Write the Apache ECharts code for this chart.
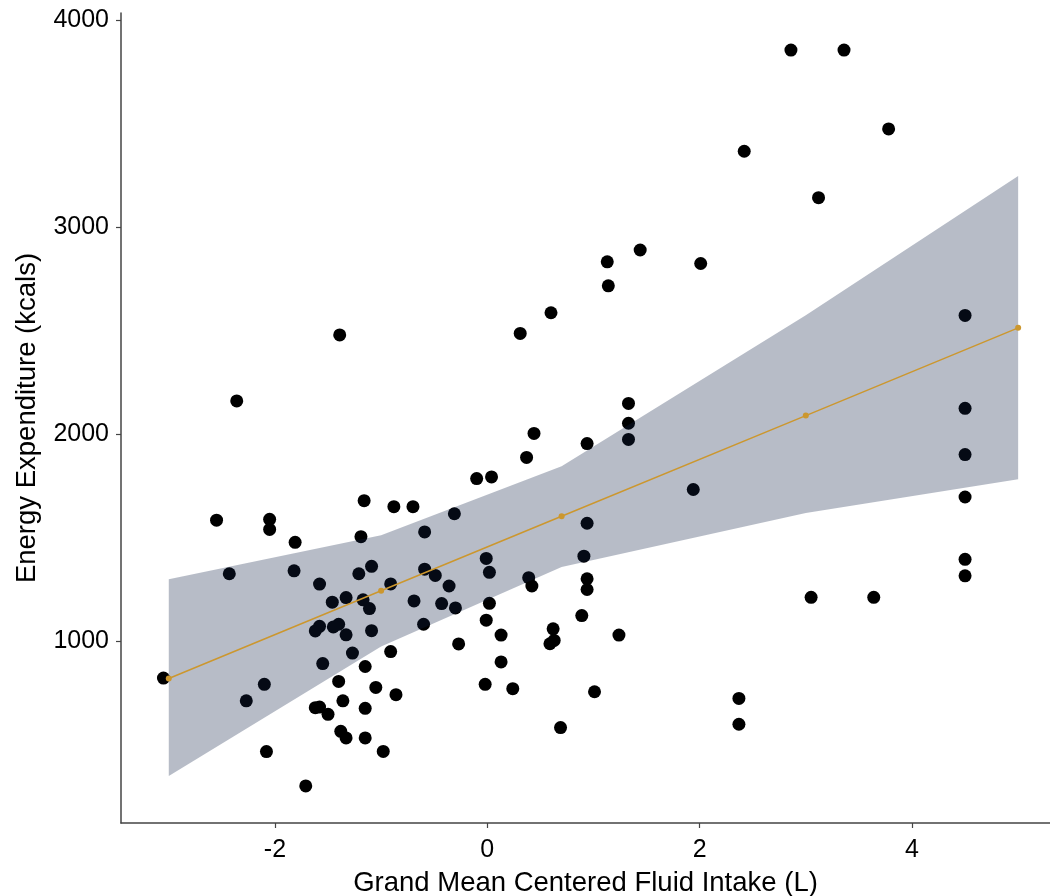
<!DOCTYPE html>
<html>
<head>
<meta charset="utf-8">
<script src="https://cdn.jsdelivr.net/npm/echarts@6/dist/echarts.min.js"></script>
<style>
  html, body { margin: 0; padding: 0; background: #fff; }
  #chart { width: 1050px; height: 896px; }
</style>
</head>
<body>
<div id="chart"></div>
<script>
// observed points: grand mean centered fluid intake (L) vs energy expenditure (kcals)
const fluidIntake = [
  2.86, 3.36, 3.78, 2.42, 3.12, 1.44, 1.13, 2.01, 1.14, 0.60,
  0.31, -1.39, 4.50, -2.36, 1.33, 1.33, 1.33, 4.50, 0.44, 0.94,
  4.50, 0.37, -0.10, 0.04, 1.94, 4.50, -1.16, -0.88, -0.70, -0.31,
  -2.55, -2.05, -2.05, 0.94, -1.19, -0.59, -1.81, 0.91, -0.01, 4.50,
  -2.43, -1.82, -1.21, -1.09, -0.59, -0.49, 0.02, 0.39, 0.94, 4.50,
  -1.58, -0.91, -0.36, 0.42, 0.94, 3.05, 3.64, -1.46, -1.33, -1.17,
  -1.11, -0.69, -0.43, -0.30, 0.02, -0.01, 0.89, -1.62, -1.58, -1.45,
  -1.40, -1.33, -1.09, -0.60, 0.13, 0.62, 1.24, -0.27, 0.59, 0.63,
  -1.27, -0.91, -1.55, -1.15, 0.13, -3.05, -2.10, -1.40, -1.05, -0.02,
  0.24, -0.86, 1.01, 2.37, -2.27, -1.36, -1.62, -1.58, -1.50, -1.15,
  2.37, 0.69, -1.38, -1.33, -1.15, -2.08, -0.98, -1.71
]
const energyKcal = [
  3856, 3856, 3475, 3367, 3143, 2890, 2833, 2825, 2717, 2587,
  2487, 2480, 2574, 2161, 2149, 2053, 1975, 2125, 2004, 1955,
  1902, 1888, 1786, 1794, 1733, 1697, 1679, 1650, 1650, 1616,
  1585, 1589, 1540, 1570, 1505, 1528, 1478, 1411, 1400, 1396,
  1326, 1340, 1326, 1362, 1348, 1318, 1333, 1307, 1302, 1316,
  1276, 1277, 1267, 1267, 1250, 1212, 1212, 1189, 1211, 1200,
  1158, 1195, 1182, 1161, 1183, 1102, 1124, 1050, 1072, 1069,
  1082, 1031, 1051, 1082, 1030, 1060, 1030, 987, 988, 1004,
  943, 950, 892, 878, 900, 822, 792, 806, 777, 792,
  771, 742, 756, 724, 712, 712, 679, 682, 647, 676,
  599, 583, 565, 533, 533, 467, 468, 301
]

// fitted line and its confidence band
const fitX = [-3, -1, 0.7, 3, 5]
const fitY = [820, 1244, 1604, 2090, 2514]
const ciLower = [349, 975, 1359, 1620, 1783]
const ciUpper = [1300, 1512, 1846, 2575, 3247]

const xTicks = [-2, 0, 2, 4]
const yTicks = [1000, 2000, 3000, 4000]

const axisColor = '#444'
const fontFamily = '"Liberation Sans", Arial, sans-serif'

const chart = echarts.init(document.getElementById('chart'), null, { renderer: 'canvas' })

// ribbon polygon: upper edge left->right, then lower edge right->left
const renderBand = (params, api) => {
  const pts = []
  fitX.forEach((x, i) => pts.push(api.coord([x, ciUpper[i]])))
  for (let i = fitX.length - 1; i >= 0; i--) pts.push(api.coord([fitX[i], ciLower[i]]))
  return {
    type: 'polygon',
    shape: { points: pts },
    style: { fill: 'rgba(16,33,69,0.3)' },
  }
}

chart.setOption({
  animation: false,
  backgroundColor: '#fff',
  grid: { left: 121, right: 0, top: 13, bottom: 73, outerBoundsMode: 'none', containLabel: false },
  xAxis: {
    type: 'value',
    min: -3.45,
    max: 5.3,
    name: 'Grand Mean Centered Fluid Intake (L)',
    nameLocation: 'middle',
    nameGap: 46,
    nameTextStyle: { color: '#000', fontSize: 27.5, fontFamily },
    splitLine: { show: false },
    axisLine: { onZero: false, lineStyle: { color: axisColor, width: 1.5 } },
    axisTick: { show: true, length: 5, customValues: xTicks, lineStyle: { color: axisColor, width: 1.2 } },
    axisLabel: { customValues: xTicks, color: '#000', fontSize: 25, fontFamily, margin: 15 },
  },
  yAxis: {
    type: 'value',
    min: 122,
    max: 4035,
    name: 'Energy Expenditure (kcals)',
    nameLocation: 'middle',
    nameGap: 80,
    nameRotate: 90,
    nameTextStyle: { color: '#000', fontSize: 27.5, fontFamily },
    splitLine: { show: false },
    axisLine: { show: true, onZero: false, lineStyle: { color: axisColor, width: 1.5 } },
    axisTick: { show: true, length: 5, customValues: yTicks, lineStyle: { color: axisColor, width: 1.2 } },
    axisLabel: {
      customValues: yTicks,
      color: '#000',
      fontSize: 25,
      fontFamily,
      margin: 12,
      formatter: v => String(v),
    },
  },
  series: [
    {
      name: 'observed',
      type: 'scatter',
      z: 1,
      symbol: 'circle',
      symbolSize: 13,
      itemStyle: { color: '#000', opacity: 1 },
      data: fluidIntake.map((x, i) => [x, energyKcal[i]]),
    },
    {
      name: 'ci',
      type: 'custom',
      z: 2,
      renderItem: renderBand,
      data: [0],
      silent: true,
    },
    {
      name: 'fit',
      type: 'line',
      z: 3,
      symbol: 'circle',
      symbolSize: 6,
      showSymbol: true,
      itemStyle: { color: '#cc972e', borderWidth: 0 },
      lineStyle: { color: '#cc972e', width: 1.5 },
      data: fitX.map((x, i) => [x, fitY[i]]),
    },
  ],
})
</script>
</body>
</html>
